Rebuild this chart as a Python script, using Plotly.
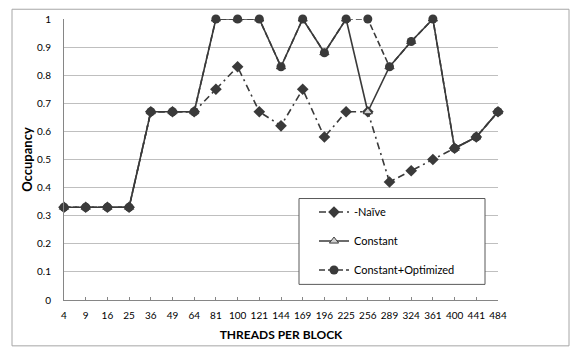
import plotly.graph_objects as go

# Threads per block (x categories)
threads = ["4", "9", "16", "25", "36", "49", "64", "81", "100", "121", "144",
           "169", "196", "225", "256", "289", "324", "361", "400", "441", "484"]

# Occupancy for each kernel variant
naive = [0.33, 0.33, 0.33, 0.33, 0.67, 0.67, 0.67, 0.75, 0.83, 0.67, 0.62,
         0.75, 0.58, 0.67, 0.67, 0.42, 0.46, 0.50, 0.54, 0.58, 0.67]
constant = [0.33, 0.33, 0.33, 0.33, 0.67, 0.67, 0.67, 1.00, 1.00, 1.00, 0.83,
            1.00, 0.88, 1.00, 0.67, 0.83, 0.92, 1.00, 0.54, 0.58, 0.67]
constant_opt = [0.33, 0.33, 0.33, 0.33, 0.67, 0.67, 0.67, 1.00, 1.00, 1.00, 0.83,
                1.00, 0.88, 1.00, 1.00, 0.83, 0.92, 1.00, 0.54, 0.58, 0.67]

y_ticks = [0, 0.1, 0.2, 0.3, 0.4, 0.5, 0.6, 0.7, 0.8, 0.9, 1]
y_ticktext = ["0", "0.1", "0.2", "0.3", "0.4", "0.5", "0.6", "0.7", "0.8", "0.9", "1"]

INK = "#3a3a3a"
FONT = "Lato, 'Open Sans', sans-serif"

fig = go.Figure()

fig.add_trace(go.Scatter(
    x=threads, y=naive, name="-Naïve", mode="lines+markers",
    line=dict(color=INK, width=1.6, dash="7px,4px,2px,4px"),
    marker=dict(symbol="diamond", size=9, color=INK),
    legendgroup="a", cliponaxis=False,
))
fig.add_trace(go.Scatter(
    x=threads, y=constant, name="Constant", mode="lines+markers",
    line=dict(color=INK, width=1.6),
    marker=dict(symbol="triangle-up", size=8, color="#d0d0d0",
                line=dict(color=INK, width=1)),
    legendgroup="b", cliponaxis=False,
))
fig.add_trace(go.Scatter(
    x=threads, y=constant_opt, name="Constant+Optimized", mode="lines+markers",
    line=dict(color=INK, width=1.6, dash="6px,3px"),
    marker=dict(symbol="circle", size=9, color=INK),
    legendgroup="c", cliponaxis=False,
))

# Plot-area geometry in pixels, used to place the frame and legend box
W, H = 571, 351
L, R, T, B = 64, 73, 13, 50
pw, ph = W - L - R, H - T - B

def px_x(v):
    return (v - L) / pw

def px_y(v):
    return (H - B - v) / ph

# outer chart frame
fig.add_shape(type="rect", xref="paper", yref="paper",
              x0=px_x(12), x1=px_x(569), y0=px_y(348), y1=px_y(3),
              line=dict(color="#a6a6a6", width=1), layer="below")
# legend frame
fig.add_shape(type="rect", xref="paper", yref="paper",
              x0=px_x(299), x1=px_x(485), y0=px_y(285), y1=px_y(197),
              line=dict(color="#595959", width=1), fillcolor="white",
              layer="above")

fig.update_layout(
    width=W, height=H,
    margin=dict(l=L, r=R, t=T, b=B),
    paper_bgcolor="white", plot_bgcolor="white",
    font=dict(family=FONT, color="#000000", size=10),
    showlegend=True,
    legend=dict(
        x=px_x(314), y=px_y(196), xanchor="left", yanchor="top",
        bgcolor="rgba(0,0,0,0)", borderwidth=0,
        font=dict(size=11, family=FONT, color="#000000"),
        tracegroupgap=10, traceorder="grouped",
        itemwidth=30,
    ),
    xaxis=dict(
        type="category", range=[0, 20],
        showgrid=False, showline=True, linecolor="#868686", linewidth=1,
        ticks="inside", ticklen=3, tickcolor="#868686",
        tickfont=dict(size=10), ticklabelstandoff=6,
        title=dict(text="<b>THREADS PER BLOCK</b>", font=dict(size=12), standoff=10),
        zeroline=False, fixedrange=True,
    ),
    yaxis=dict(
        range=[0, 1], tickvals=y_ticks, ticktext=y_ticktext,
        showgrid=True, gridcolor="#bfbfbf", gridwidth=1,
        showline=True, linecolor="#868686", linewidth=1,
        ticks="", tickfont=dict(size=10), ticklabelstandoff=10,
        title=dict(text="<b>Occupancy</b>", font=dict(size=13), standoff=1),
        zeroline=False, fixedrange=True,
    ),
)

fig.write_html("out.html")
